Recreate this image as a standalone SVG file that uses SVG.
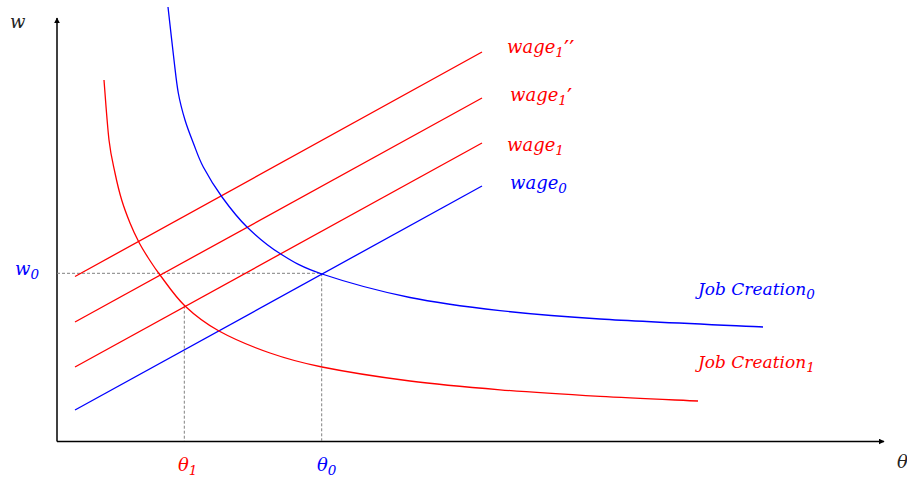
<svg xmlns="http://www.w3.org/2000/svg" width="907" height="479" viewBox="0 0 907 479">
<style>
.t{font-family:"DejaVu Serif","Liberation Serif",serif;font-style:italic;font-size:18px}
.j{font-size:17px}
.s{font-size:13.5px}
.p{font-size:23px;font-style:normal}
.r{fill:#ff0000}
.b{fill:#0000ff}
.k{fill:#222}
.lr{stroke:#ff0000;stroke-width:1.3;fill:none}
.lb{stroke:#0000ff;stroke-width:1.3;fill:none}
.ax{stroke:#000;stroke-width:1.5;fill:none}
.d{stroke:#808080;stroke-width:1;stroke-dasharray:3 2;fill:none}
</style>
<defs>
<marker id="ah" viewBox="0 0 10 10" refX="9" refY="5" markerWidth="6" markerHeight="6" orient="auto" markerUnits="userSpaceOnUse"><path d="M0,0 L10,5 L0,10 z" fill="#000"/></marker>
</defs>
<rect width="907" height="479" fill="#fff"/>
<g id="axes">
<line class="ax" x1="57" y1="441.5" x2="57" y2="18" marker-end="url(#ah)"/>
<line class="ax" x1="57" y1="441.5" x2="884" y2="441.5" marker-end="url(#ah)"/>
</g>
<g id="guides">
<line class="d" x1="57" y1="273.3" x2="321.7" y2="273.3"/>
<line class="d" x1="321.7" y1="273.3" x2="321.7" y2="441"/>
<line class="d" x1="184.3" y1="305.7" x2="184.3" y2="441"/>
</g>
<g id="connectors">
<line id="wage0-line" class="lb" x1="75" y1="410" x2="482" y2="186"/>
<line id="wage1-line" class="lr" x1="75" y1="367" x2="482" y2="143"/>
<line id="wage1p-line" class="lr" x1="75" y1="322" x2="482" y2="98"/>
<line id="wage1pp-line" class="lr" x1="75" y1="276.5" x2="482" y2="52"/>
<path id="jc0-curve" class="lb" d="M168,7 C169,15.8 172.3,45.7 174,60 C175.7,74.3 176.5,83 178.3,93 C180.1,103 182.5,111.7 185,120 C187.5,128.3 190.3,135.2 193.3,143 C196.4,150.8 198.5,158 203.3,167 C208.1,176 214.7,187 222,197 C229.3,207 237.3,217.6 247,227 C256.7,236.4 267.5,245.7 280,253.5 C292.5,261.3 300.3,266.7 322,274 C343.7,281.3 380.3,291.4 410,297.5 C439.7,303.6 468.3,307 500,310.6 C531.7,314.2 556.2,316.3 600,319 C643.8,321.7 735.8,325.7 763,327"/>
<path id="jc1-curve" class="lr" d="M104,80 C104.8,90 107.2,124.5 109,140 C110.8,155.5 112.9,163 115,173 C117.1,183 119.2,191.7 121.7,200 C124.2,208.3 127.1,215.8 130,223 C132.9,230.2 136.3,237.2 139.3,243 C142.4,248.8 144.9,252.7 148.3,258 C151.8,263.3 153.9,267 160,275 C166.1,283 175.2,296.7 185,306 C194.8,315.3 204.8,323.2 219,331 C233.2,338.8 252.8,347 270,353 C287.2,359 298.7,362.3 322,367 C345.3,371.7 380.3,377.2 410,381 C439.7,384.8 468.3,387.2 500,389.8 C531.7,392.4 567,394.5 600,396.4 C633,398.3 681.7,400.2 698,401"/>
</g>
<g id="label-w"><text class="t k" x="10" y="28">w</text></g>
<g id="label-w0"><text class="t b" x="15" y="275">w<tspan class="s" dy="4">0</tspan></text></g>
<g id="label-theta"><text class="t k" x="897" y="468">θ</text></g>
<g id="label-theta1"><text class="t r" x="178" y="471">θ<tspan class="s" dy="4">1</tspan></text></g>
<g id="label-theta0"><text class="t b" x="317" y="471">θ<tspan class="s" dy="4">0</tspan></text></g>
<g id="node-wage1pp"><text class="t r" x="507" y="53">wage<tspan class="s" dy="4">1</tspan><tspan class="p" dy="-1">′′</tspan></text></g>
<g id="node-wage1p"><text class="t r" x="510" y="101">wage<tspan class="s" dy="4">1</tspan><tspan class="p" dy="-1">′</tspan></text></g>
<g id="node-wage1"><text class="t r" x="507" y="150.5">wage<tspan class="s" dy="4">1</tspan></text></g>
<g id="node-wage0"><text class="t b" x="510" y="188.5">wage<tspan class="s" dy="4">0</tspan></text></g>
<g id="node-jc0"><text class="t j b" x="698" y="295">Job Creation<tspan class="s" dy="4">0</tspan></text></g>
<g id="node-jc1"><text class="t j r" x="698" y="368">Job Creation<tspan class="s" dy="4">1</tspan></text></g>
</svg>
